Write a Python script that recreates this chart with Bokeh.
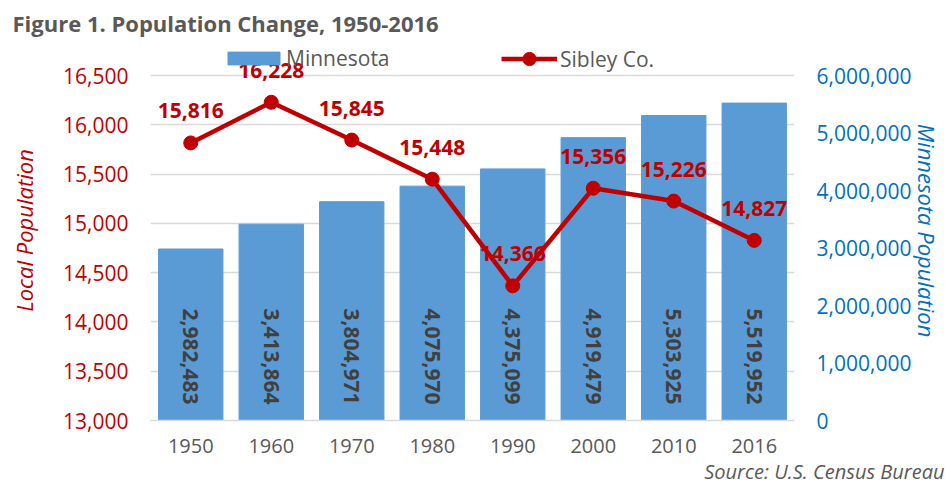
import math
from bokeh.plotting import figure
from bokeh.core.properties import value
from bokeh.models import (ColumnDataSource, FactorRange, Range1d, LinearAxis, FixedTicker,
                          NumeralTickFormatter, LabelSet, Legend, LegendItem, Title)
from bokeh.embed import file_html
from bokeh.resources import INLINE

# ---- data ----
years = ["1950", "1960", "1970", "1980", "1990", "2000", "2010", "2016"]
minnesota = [2982483, 3413864, 3804971, 4075970, 4375099, 4919479, 5303925, 5519952]
sibley = [15816, 16228, 15845, 15448, 14366, 15356, 15226, 14827]
left_ticks = [13000, 13500, 14000, 14500, 15000, 15500, 16000, 16500]
right_ticks = [0, 1000000, 2000000, 3000000, 4000000, 5000000, 6000000]

FONT = "Open Sans"
RED = "#C00000"
BLUE_AX = "#0070C0"
BAR = "#5B9BD5"
GRAY = "#595959"
DARK = "#404040"
GRID = "#D9D9D9"

# ---- layout geometry (pixels) ----
W, H = 946, 487
LEFT, RIGHT, TOP, BOTTOM = 150, 152, 40, 67
DATA_PX = 345          # pixel height of the tick span (13,000..16,500)
EXTRA_TOP = H - TOP - BOTTOM - DATA_PX   # frame extends above top tick (room for labels/legend)

l_span = left_ticks[-1] - left_ticks[0]
r_span = right_ticks[-1] - right_ticks[0]
l_end = left_ticks[-1] + EXTRA_TOP * l_span / DATA_PX
r_end = right_ticks[-1] + EXTRA_TOP * r_span / DATA_PX

src = ColumnDataSource(dict(
    year=years, mn=minnesota, sib=sibley,
    mn_lbl=[f"{v:,}" for v in minnesota],
    sib_lbl=[f"{v:,}" for v in sibley],
    zero=[0] * len(years),
))

p = figure(width=W, height=H, x_range=FactorRange(*years),
           y_range=Range1d(left_ticks[0], l_end),
           output_backend="svg", toolbar_location=None,
           min_border_left=LEFT, min_border_right=RIGHT,
           min_border_top=TOP, min_border_bottom=BOTTOM)
p.outline_line_color = None
p.background_fill_color = "white"
p.border_fill_color = "white"
p.extra_y_ranges = {"mn": Range1d(right_ticks[0], r_end)}

# title
p.title.text = "Figure 1. Population Change, 1950-2016"
p.title.align = "left"
p.title.offset = -138
p.title.standoff = 5
p.title.text_font = FONT
p.title.text_font_size = "22px"
p.title.text_font_style = "bold"
p.title.text_color = GRAY


def style_axis(ax, color, size, standoff):
    ax.axis_line_color = None
    ax.major_tick_line_color = None
    ax.minor_tick_line_color = None
    ax.major_tick_out = 0
    ax.major_tick_in = 0
    ax.minor_tick_out = 0
    ax.minor_tick_in = 0
    ax.major_label_standoff = standoff
    ax.major_label_text_font = FONT
    ax.major_label_text_font_size = size
    ax.major_label_text_color = color


# left axis
la = p.yaxis[0]
la.ticker = FixedTicker(ticks=left_ticks)
la.formatter = NumeralTickFormatter(format="0,0")
style_axis(la, RED, "21px", 22)
la.axis_label = "Local Population"
la.axis_label_standoff = 21
la.axis_label_text_font = FONT
la.axis_label_text_font_size = "22px"
la.axis_label_text_font_style = "italic"
la.axis_label_text_color = RED

# right axis
ra = LinearAxis(y_range_name="mn", ticker=FixedTicker(ticks=right_ticks),
                formatter=NumeralTickFormatter(format="0,0"))
style_axis(ra, BLUE_AX, "21px", 22)
ra.axis_label = "Minnesota Population"
ra.axis_label_standoff = -2
ra.axis_label_text_font = FONT
ra.axis_label_text_font_size = "22px"
ra.axis_label_text_font_style = "italic"
ra.axis_label_text_color = BLUE_AX
p.add_layout(ra, "right")

# x axis
xa = p.xaxis[0]
style_axis(xa, GRAY, "20px", 18)
xa.axis_line_color = GRID
xa.axis_line_width = 1.5

p.xgrid.grid_line_color = None
p.ygrid.ticker = FixedTicker(ticks=left_ticks)
p.ygrid.grid_line_color = GRID
p.ygrid.grid_line_width = 1.5

# source note
p.add_layout(Title(text="Source: U.S. Census Bureau", align="right", offset=-150,
                   standoff=0, text_font=FONT, text_font_size="20px",
                   text_font_style="italic", text_color=GRAY), "below")

# bars
bars = p.vbar(x="year", top="mn", width=0.8, source=src, y_range_name="mn",
              fill_color=BAR, line_color=BAR)

# line + markers
ln = p.line(x="year", y="sib", source=src, line_color=RED, line_width=4.5)
dots = p.scatter(x="year", y="sib", source=src, size=14, fill_color=RED, line_color=RED)

# bar labels (rotated, inside base)
bl = LabelSet(x="year", y="zero", text="mn_lbl", source=src, y_range_name="mn",
              angle=-math.pi / 2, text_align="right", text_baseline="middle",
              y_offset=16, text_font=value(FONT), text_font_size="21px",
              text_font_style="bold", text_color=DARK)
p.add_layout(bl)

# sibley labels
sl = LabelSet(x="year", y="sib", text="sib_lbl", source=src,
              text_align="center", text_baseline="middle", y_offset=32,
              text_font=value(FONT), text_font_size="21px", text_font_style="bold",
              text_color=RED)
p.add_layout(sl)

# legends (two, so that each swatch gets its own size)
leg_style = dict(orientation="horizontal", padding=0, margin=0,
                 border_line_alpha=0, background_fill_alpha=0,
                 label_text_font=FONT, label_text_font_size="21px",
                 label_text_color=GRAY)
leg_mn = Legend(items=[LegendItem(label="Minnesota", renderers=[bars])],
                location=(71, DATA_PX + 3), glyph_width=65, glyph_height=16,
                label_standoff=0, **leg_style)
leg_sib = Legend(items=[LegendItem(label="Sibley Co.", renderers=[ln, dots])],
                 location=(351, DATA_PX), glyph_width=56, glyph_height=33,
                 label_standoff=3, **leg_style)
p.add_layout(leg_mn)
p.add_layout(leg_sib)

open("out.html", "w").write(file_html(p, INLINE))
